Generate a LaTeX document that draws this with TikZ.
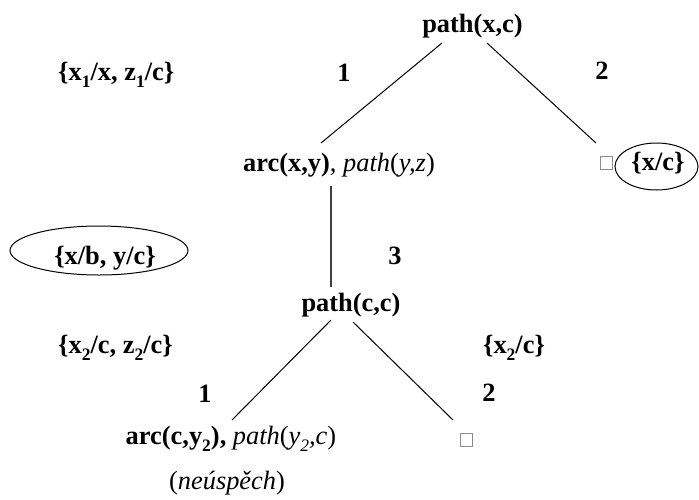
\documentclass[tikz,border=0pt]{standalone}
\usepackage{fontspec}
\setmainfont{Liberation Serif}
\usetikzlibrary{shapes.geometric}
\newcommand\lo[1]{\raisebox{-0.28em}{\fontsize{17.5}{17.5}\selectfont #1}}
\tikzset{
  lbl/.style={inner sep=0pt, font=\fontsize{26.4}{30}\selectfont},
  edge/.style={line width=1pt, black},
  vedge/.style={line width=1.4pt, black!75},
  oval/.style={draw, ellipse, line width=1pt, inner sep=0pt},
  emptybox/.style={draw=black!45, line width=0.8pt, minimum width=12pt, minimum height=13pt, inner sep=0pt}
}
\begin{document}
\begin{tikzpicture}[x=1pt,y=-1pt]
\path[use as bounding box] (0,0) rectangle (699,499);
% nodes
\node[lbl] (top) at (472.5,26) {\textbf{path(x,c)}};
\node[lbl, anchor=west] (s1) at (58,75) {\textbf{\{x\lo{1}/x, z\lo{1}/c\}}};
\node[lbl] (n1a) at (344,73) {\textbf{1}};
\node[lbl] (n2a) at (602,71) {\textbf{2}};
\node[lbl] (arc1) at (339,165) {\textbf{arc(x,y)}, \textit{path}(\textit{y,z})};
\node[emptybox] (sq1) at (606,163) {};
\node[oval, minimum width=83pt, minimum height=47pt] (e1) at (656.5,166.5) {};
\node[lbl] (s2) at (658,163) {\textbf{\{x/c\}}};
\node[oval, minimum width=178pt, minimum height=49pt] (e2) at (99,250.5) {};
\node[lbl] (s3) at (105,258) {\textbf{\{x/b, y/c\}}};
\node[lbl] (n3) at (395,256) {\textbf{3}};
\node[lbl] (mid) at (351,305) {\textbf{path(c,c)}};
\node[lbl, anchor=west] (s4) at (58,348) {\textbf{\{x\lo{2}/c, z\lo{2}/c\}}};
\node[lbl] (s5) at (514,348) {\textbf{\{x\lo{2}/c\}}};
\node[lbl] (n1b) at (205,394) {\textbf{1}};
\node[lbl] (n2b) at (489,393) {\textbf{2}};
\node[lbl] (arc2) at (231,439) {\textbf{arc(c,y\lo{2}),} \textit{path}(\textit{y\lo{2},c})};
\node[emptybox] (sq2) at (466.5,439.5) {};
\node[lbl] (fail) at (227,483) {(\textit{neúspěch})};
% connector end points
\coordinate (tL) at (442,43);
\coordinate (tR) at (487,43);
\coordinate (aT) at (321,143);
\coordinate (qT) at (596,143);
\coordinate (aB) at (331,186);
\coordinate (mT) at (331,287);
\coordinate (mL) at (331,320);
\coordinate (mR) at (353,322);
\coordinate (bT) at (232,420);
\coordinate (qB) at (453,420);
% connectors
\draw[edge] (tL) -- (aT);
\draw[edge] (tR) -- (qT);
\draw[vedge] (aB) -- (mT);
\draw[edge] (mL) -- (bT);
\draw[edge] (mR) -- (qB);
\end{tikzpicture}
\end{document}
